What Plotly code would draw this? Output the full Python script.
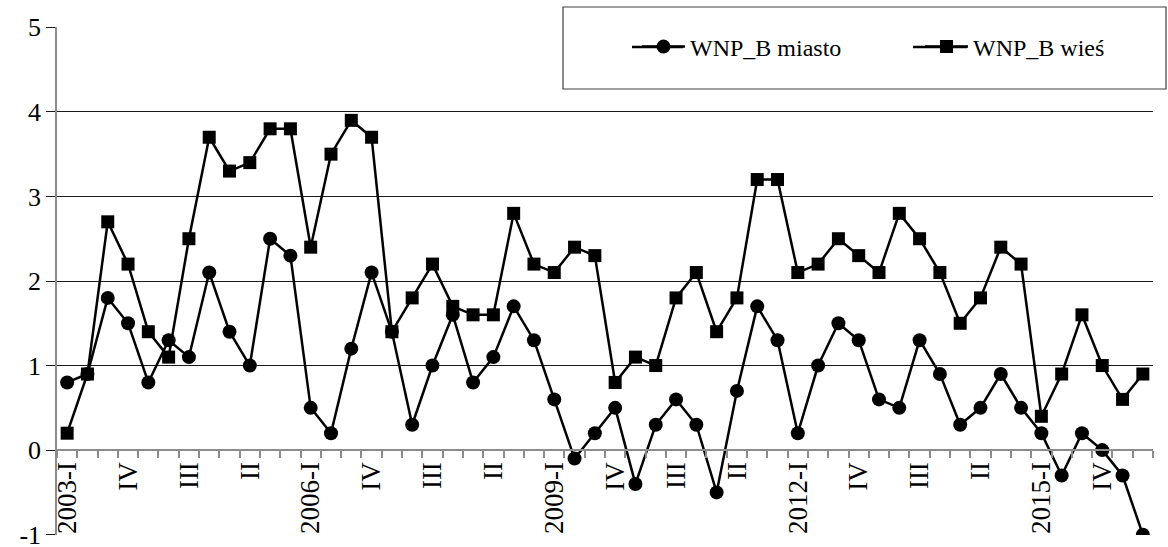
import plotly.graph_objects as go

quarters = []
for y in range(2003, 2017):
    for q in ["I", "II", "III", "IV"]:
        quarters.append(f"{y}-{q}")
quarters = quarters[:54]

miasto = [0.8, 0.9, 1.8, 1.5, 0.8, 1.3, 1.1, 2.1, 1.4, 1.0, 2.5, 2.3,
          0.5, 0.2, 1.2, 2.1, 1.4, 0.3, 1.0, 1.6, 0.8, 1.1, 1.7, 1.3,
          0.6, -0.1, 0.2, 0.5, -0.4, 0.3, 0.6, 0.3, -0.5, 0.7, 1.7, 1.3,
          0.2, 1.0, 1.5, 1.3, 0.6, 0.5, 1.3, 0.9, 0.3, 0.5, 0.9, 0.5,
          0.2, -0.3, 0.2, 0.0, -0.3, -1.0]
wies = [0.2, 0.9, 2.7, 2.2, 1.4, 1.1, 2.5, 3.7, 3.3, 3.4, 3.8, 3.8,
        2.4, 3.5, 3.9, 3.7, 1.4, 1.8, 2.2, 1.7, 1.6, 1.6, 2.8, 2.2,
        2.1, 2.4, 2.3, 0.8, 1.1, 1.0, 1.8, 2.1, 1.4, 1.8, 3.2, 3.2,
        2.1, 2.2, 2.5, 2.3, 2.1, 2.8, 2.5, 2.1, 1.5, 1.8, 2.4, 2.2,
        0.4, 0.9, 1.6, 1.0, 0.6, 0.9]

tick_idx = list(range(0, 54, 3))
tick_text = ["2003-I", "IV", "III", "II", "2006-I", "IV", "III", "II",
             "2009-I", "IV", "III", "II", "2012-I", "IV", "III", "II",
             "2015-I", "IV"]
y_ticks = [-1, 0, 1, 2, 3, 4, 5]
y_tick_text = ["-1", "0", "1", "2", "3", "4", "5"]

x = list(range(len(quarters)))
FONT = "'Liberation Serif', Tinos, 'DejaVu Serif', serif"

fig = go.Figure()
fig.add_trace(go.Scatter(
    x=x, y=miasto, name="WNP_B miasto", mode="lines+markers",
    line=dict(color="black", width=2.5),
    marker=dict(symbol="circle", size=14, color="black"),
    hovertext=quarters, legend="legend"))
fig.add_trace(go.Scatter(
    x=x, y=wies, name="WNP_B wieś", mode="lines+markers",
    line=dict(color="black", width=2.5),
    marker=dict(symbol="square", size=13, color="black"),
    hovertext=quarters, legend="legend2"))

W, H = 1168, 547
L, R, T, B = 57, 15, 27, 12
pw, ph = W - L - R, H - T - B

def px(xp):
    return (xp - L) / pw

def py(yp):
    return (H - B - yp) / ph

# legend frame
fig.add_shape(type="rect", xref="paper", yref="paper",
              x0=px(563), x1=px(1166), y0=py(89), y1=py(7),
              line=dict(color="#404040", width=1.2), fillcolor="rgba(0,0,0,0)")
# longer legend line samples
for a, b in [(632, 683), (913, 967)]:
    fig.add_shape(type="line", xref="paper", yref="paper",
                  x0=px(a), x1=px(b), y0=py(47), y1=py(47),
                  line=dict(color="black", width=2.5))

leg_common = dict(orientation="h", xanchor="left", yanchor="middle",
                  font=dict(family=FONT, size=24, color="black"),
                  bgcolor="rgba(0,0,0,0)", borderwidth=0, itemwidth=43)

fig.update_layout(
    width=W, height=H,
    margin=dict(l=L, r=R, t=T, b=B, autoexpand=False),
    plot_bgcolor="white", paper_bgcolor="white",
    font=dict(family=FONT, color="black"),
    showlegend=True,
    legend=dict(x=px(637), y=py(47), **leg_common),
    legend2=dict(x=px(920), y=py(47), **leg_common),
    xaxis=dict(
        range=[-0.5, 53.5], anchor="free", position=1/6,
        showgrid=False, zeroline=False, automargin=False,
        showline=True, linecolor="#8c8c8c", linewidth=2,
        tickmode="array", tickvals=tick_idx, ticktext=tick_text,
        tickangle=-90, ticks="", ticklabelstandoff=0, ticklabeloverflow="allow",
        tickfont=dict(family=FONT, size=27, color="black"),
        minor=dict(ticks="outside", ticklen=7, tickcolor="#8c8c8c", tickwidth=1.5,
                   tickmode="linear", tick0=-0.5, dtick=1, showgrid=False),
    ),
    yaxis=dict(
        range=[-1.004, 5.004], tickmode="array", tickvals=y_ticks, ticktext=y_tick_text,
        showgrid=True, gridcolor="#1a1a1a", gridwidth=1,
        zeroline=False, automargin=False, ticklabeloverflow="allow",
        showline=True, linecolor="#8c8c8c", linewidth=1.5,
        ticks="outside", ticklen=9, tickcolor="#1a1a1a", tickwidth=1,
        tickfont=dict(family=FONT, size=26, color="black"),
    ),
)

fig.write_html("out.html", config={"displayModeBar": False},
               post_script="document.body.style.margin='0';document.body.style.padding='0';")
